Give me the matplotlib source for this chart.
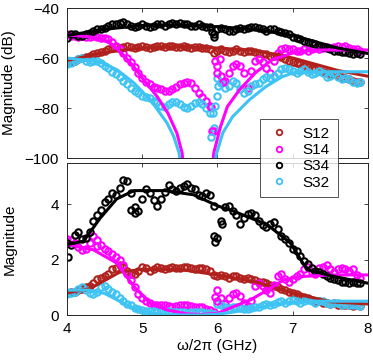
import numpy as np
import matplotlib
matplotlib.use("Agg")
from matplotlib import pyplot as plt

plt.rcParams['font.family'] = ['Liberation Sans', 'DejaVu Sans']

# measured frequency grid [GHz]
freq = np.linspace(4.0, 7.9, 79)

# ---- top panel, magnitude in dB ----
top_s12 = [-62, -61.5, -61, -60.5, -60, -59.5, -59, -58.5, -58, -57.5,
           -57, -56.5, -56, -55.5, -56, -55.5, -55, -55.5, -56, -55.5,
           -55, -55.5, -56, -55.5, -55, -55, -55.5, -55, -55, -55.5,
           -55.5, -55, -55.5, -56, -55.5, -55.5, -56, -56, -56.5, -58,
           -57, -56.5, -57, -57.5, -57, -56.5, -57, -57.5, -57, -57,
           -57.5, -58, -58.5, -58.5, -59, -59, -59, -59.5, -60.5, -61,
           -61.5, -62, -62.5, -63, -63.5, -64, -64.5, -65, -65.5, -66,
           -66.5, -66.5, -67, -67.5, -68, -68.5, -69, -69.5, -69.5]
top_s14 = [-50.5, -51, -51, -51.5, -51, -51.5, -51.5, -51, -51.5, -52,
           -52, -52.5, -53.5, -55, -56.5, -58, -60, -61.5, -63.5, -66,
           -68, -69.5, -70.5, -71.5, -72, -72.5, -73, -73, -72.5, -71.5,
           -70.5, -70, -69.5, -70, -72, -74, -75.5, -77, -79, -89,
           -63, -67, -69, -66, -63, -62.5, -63, -66, -72, -65,
           -61, -60.5, -61.5, -64, -66, -61, -58, -56.5, -56, -56.5,
           -56.5, -57, -57, -56.5, -57, -56.5, -56, -56.5, -56, -55.5,
           -56, -55.5, -55, -55.5, -55, -56, -56.5, -56.5, -57]
top_s34 = [-52, -50.5, -50.5, -51, -51, -50.5, -50, -49, -48.5, -48.5,
           -48, -47, -46.5, -46.5, -46, -45.5, -46.5, -47, -47.5, -47,
           -46.5, -47, -47.5, -47, -46.5, -46.5, -47, -46.5, -46, -46.5,
           -46, -46.5, -46.5, -47, -47, -46.5, -47, -47.5, -47.5, -50.5,
           -48.5, -48, -48.5, -49, -49, -48.5, -48, -48.5, -48, -47.5,
           -47.5, -48, -48.5, -49, -48.5, -48.5, -49, -49.5, -50, -50.5,
           -51.5, -52, -52.5, -53, -53.5, -54, -54.5, -55, -55.5, -56,
           -56.5, -57, -57, -57.5, -57.5, -58, -58.5, -58, -58.5]
top_s32 = [-62.5, -62, -61, -60.5, -60, -61, -61.5, -61, -61, -62,
           -63, -64, -65.5, -66.5, -67.5, -69, -70.5, -72, -73, -74,
           -75, -75.5, -76, -77, -77.5, -79, -79.5, -78.5, -77.5, -77.5,
           -78.5, -79.5, -80, -79, -78, -77.5, -78.5, -80, -82, -88,
           -68, -70, -72, -71, -69, -70, -72.5, -74, -73, -71,
           -70.5, -70, -68.5, -67.5, -68, -67, -66, -64.5, -64, -64.5,
           -65, -66, -65, -64.5, -65.5, -66.5, -66, -65, -66, -67.5,
           -67, -66, -67.5, -68.5, -68, -68.5, -69.5, -70, -69.5]

# scattered points around the resonance
top_s14_extra_f = [5.92, 5.93, 5.97, 6.0, 6.03, 6.07]
top_s14_extra = [-79.5, -89, -61, -66, -60.5, -69.5]
top_s32_extra_f = [5.92, 5.94, 5.97, 5.99, 6.01]
top_s32_extra = [-91.5, -82, -79, -75, -71]
top_s34_extra_f = [5.93, 5.96]
top_s34_extra = [-49.5, -51.5]

# fitted curves, top
fit_top_f = [4.0, 4.5, 5.0, 5.5, 6.0, 6.5, 7.0, 7.3, 7.6, 8.0]
fit_top_s12 = [-61, -57.8, -56, -55.5, -56, -57, -60, -62.5, -65, -67.3]
fit_top_s34 = [-51, -48.5, -47, -46.8, -47.5, -48.5, -51, -53.5, -56, -58.2]
fit_top_s14_f = [4.0, 4.3, 4.5, 4.6, 4.75, 4.89, 5.02, 5.2, 5.34, 5.46, 5.53, 5.57,
                 5.75,
                 5.92, 5.95, 6.04, 6.13, 6.29, 6.5, 6.72, 7.0, 7.3, 8.0]
fit_top_s14 = [-50.8, -51.5, -52.8, -54.5, -58.8, -63.5, -68.8, -75.5, -82, -90, -98, -110,
               np.nan,
               -110, -98, -87.5, -79.5, -72.8, -66, -60.8, -58, -56.8, -56.8]
fit_top_s32_f = [4.0, 4.44, 4.67, 4.89, 5.11, 5.33, 5.42, 5.49, 5.53,
                 5.75,
                 5.95, 5.98, 6.07, 6.2, 6.42, 6.64, 6.86, 7.0, 7.5, 8.0]
fit_top_s32 = [-60, -61.5, -64.8, -70, -76.8, -86, -91.5, -98, -110,
               np.nan,
               -110, -99, -90, -83.5, -76.8, -71.5, -67.5, -66, -65.5, -65.5]

# ---- bottom panel, linear magnitude ----
bot_s12 = [0.8, 0.85, 0.85, 0.9, 0.95, 1.0, 1.05, 1.15, 1.3, 1.35,
           1.4, 1.5, 1.65, 1.7, 1.8, 1.75, 1.6, 1.5, 1.5, 1.6,
           1.75, 1.7, 1.6, 1.65, 1.75, 1.7, 1.65, 1.7, 1.75, 1.7,
           1.7, 1.75, 1.75, 1.7, 1.65, 1.7, 1.7, 1.65, 1.6, 1.45,
           1.4, 1.45, 1.4, 1.35, 1.4, 1.4, 1.35, 1.3, 1.35, 1.3,
           1.25, 1.2, 1.2, 1.15, 1.1, 1.05, 1.0, 0.95, 0.9, 0.85,
           0.8, 0.75, 0.7, 0.65, 0.6, 0.55, 0.5, 0.5, 0.45, 0.45,
           0.4, 0.42, 0.38, 0.35, 0.38, 0.35, 0.33, 0.35, 0.33]
bot_s14 = [2.75, 2.7, 2.6, 2.45, 2.35, 2.4, 2.6, 2.85, 2.7, 2.55,
           2.4, 2.3, 2.2, 2.1, 2.0, 1.8, 1.5, 1.25, 1.0, 0.75,
           0.6, 0.5, 0.42, 0.38, 0.36, 0.35, 0.36, 0.34, 0.3, 0.32,
           0.35, 0.37, 0.36, 0.33, 0.3, 0.3, 0.28, 0.22, 0.18, 0.12,
           0.9, 0.6, 0.4, 0.6, 0.75, 0.8, 0.7, 0.42, 0.32, 0.5,
           1.05, 1.15, 1.05, 0.9, 0.8, 1.1, 1.4, 1.5, 1.3, 1.2,
           1.3, 1.4, 1.5, 1.65, 1.75, 1.55, 1.5, 1.7, 1.75, 1.8,
           1.65, 1.55, 1.65, 1.7, 1.65, 1.6, 1.65, 1.45, 1.35]
bot_s34 = [2.6, 2.55, 2.9, 3.0, 2.75, 2.8, 3.0, 3.4, 3.6, 3.8,
           4.1, 4.2, 4.4, 4.35, 4.6, 4.9, 4.85, 4.4, 3.9, 3.75,
           4.2, 4.55, 4.4, 4.15, 3.95, 4.2, 4.45, 4.7, 4.55, 4.5,
           4.6, 4.65, 4.75, 4.6, 4.55, 4.35, 4.3, 4.4, 4.35, 3.95,
           2.8, 3.4, 3.9, 3.95, 3.75, 3.6, 3.3, 3.5, 3.65, 3.7,
           3.6, 3.4, 3.25, 3.2, 3.3, 3.35, 3.1, 2.85, 2.75, 2.6,
           2.4, 2.3, 2.15, 1.95, 1.85, 1.7, 1.6, 1.55, 1.5, 1.4,
           1.35, 1.3, 1.25, 1.2, 1.2, 1.15, 1.2, 1.15, 1.15]
bot_s32 = [0.75, 0.8, 0.85, 0.95, 1.0, 0.9, 0.8, 0.75, 0.85, 1.0,
           1.05, 0.95, 0.85, 0.75, 0.6, 0.5, 0.4, 0.35, 0.25, 0.2,
           0.18, 0.15, 0.15, 0.13, 0.12, 0.1, 0.12, 0.13, 0.12, 0.1,
           0.1, 0.1, 0.08, 0.1, 0.12, 0.1, 0.1, 0.08, 0.07, 0.05,
           0.4, 0.35, 0.28, 0.25, 0.3, 0.3, 0.25, 0.2, 0.22, 0.27,
           0.3, 0.3, 0.35, 0.4, 0.38, 0.4, 0.48, 0.5, 0.45, 0.5,
           0.55, 0.5, 0.45, 0.5, 0.55, 0.5, 0.45, 0.5, 0.52, 0.45,
           0.4, 0.45, 0.42, 0.38, 0.4, 0.38, 0.35, 0.35, 0.34]

bot_s34_extra_f = [4.02, 4.85, 4.9, 5.95, 5.97, 6.06]
bot_s34_extra = [2.1, 3.8, 3.7, 2.85, 2.65, 3.3]
bot_s14_extra_f = [5.97, 6.0, 4.4]
bot_s14_extra = [0.65, 0.5, 2.5]

# fitted curves, bottom
fit_bot_s12_f = [4.0, 4.3, 4.5, 4.7, 5.0, 5.5, 6.0, 6.5, 7.0, 7.5, 8.0]
fit_bot_s12 = [0.8, 0.95, 1.25, 1.55, 1.65, 1.65, 1.45, 1.2, 0.8, 0.48, 0.4]
fit_bot_s14_f = [4.0, 4.35, 4.66, 4.89, 5.11, 5.33, 5.6, 5.8, 6.0, 6.21, 6.44, 6.66, 6.88, 7.1, 7.5, 8.0]
fit_bot_s14 = [2.55, 2.36, 1.88, 1.03, 0.42, 0.18, 0.04, 0.02, 0.06, 0.3, 0.55, 0.9, 1.27, 1.39, 1.45, 1.45]
fit_bot_s34_f = [4.0, 4.22, 4.44, 4.66, 4.89, 5.3, 5.68, 6.0, 6.21, 6.66, 6.97, 7.19, 7.54, 8.0]
fit_bot_s34 = [2.55, 2.67, 3.5, 4.2, 4.5, 4.5, 4.35, 3.95, 3.76, 3.27, 2.6, 1.64, 1.4, 1.15]
fit_bot_s32_f = [4.0, 4.3, 4.5, 4.7, 4.9, 5.1, 5.3, 5.5, 5.8, 6.0, 6.2, 6.5, 6.8, 7.2, 7.6, 8.0]
fit_bot_s32 = [0.9, 0.9, 0.78, 0.5, 0.22, 0.08, 0.02, 0.0, 0.0, 0.03, 0.1, 0.25, 0.4, 0.5, 0.5, 0.5]

labels = ['S12', 'S14', 'S34', 'S32']
colors = ['#b0201c', '#ff00ff', '#000000', '#3ec3f3']

fig = plt.figure(figsize=(3.73, 3.62), dpi=100)
ax1 = fig.add_axes([0.1796, 0.5635, 0.807, 0.4144])
ax2 = fig.add_axes([0.1796, 0.1298, 0.807, 0.42])

mk = dict(ls='none', marker='o', mfc='none', ms=4.6, mew=1.5)

# top panel
top_data = [top_s12, top_s14, top_s34, top_s32]
for d, c in zip(top_data, colors):
    ax1.plot(freq, d, color=c, **mk)
ax1.plot(top_s14_extra_f, top_s14_extra, color=colors[1], **mk)
ax1.plot(top_s34_extra_f, top_s34_extra, color=colors[2], **mk)
ax1.plot(top_s32_extra_f, top_s32_extra, color=colors[3], **mk)
ax1.plot(fit_top_f, fit_top_s12, color=colors[0], lw=2.2)
ax1.plot(fit_top_s14_f, fit_top_s14, color=colors[1], lw=2.2)
ax1.plot(fit_top_f, fit_top_s34, color=colors[2], lw=2.2)
ax1.plot(fit_top_s32_f, fit_top_s32, color=colors[3], lw=2.2)

# bottom panel
bot_data = [bot_s12, bot_s14, bot_s34, bot_s32]
for d, c in zip(bot_data, colors):
    ax2.plot(freq, d, color=c, **mk)
ax2.plot(bot_s14_extra_f, bot_s14_extra, color=colors[1], **mk)
ax2.plot(bot_s34_extra_f, bot_s34_extra, color=colors[2], **mk)
ax2.plot(fit_bot_s12_f, fit_bot_s12, color=colors[0], lw=2.2)
ax2.plot(fit_bot_s14_f, fit_bot_s14, color=colors[1], lw=2.2)
ax2.plot(fit_bot_s34_f, fit_bot_s34, color=colors[2], lw=2.2)
ax2.plot(fit_bot_s32_f, fit_bot_s32, color=colors[3], lw=2.2)

for ax in (ax1, ax2):
    ax.set_xlim(4, 8)
    ax.set_xticks([4, 5, 6, 7, 8])
    ax.tick_params(direction='in', top=True, right=True, labelsize=11,
                   length=3, width=0.6, color='#262626')
    ax.tick_params(axis='y', pad=6)
    ax.tick_params(axis='x', pad=5)
    for s in ax.spines.values():
        s.set_color('#262626')
        s.set_linewidth(0.7)

ax1.set_ylim(-100, -40)
ax1.set_yticks([-100, -80, -60, -40])
ax1.set_xticklabels([])
ax1.set_ylabel('Magnitude (dB)', fontsize=11)
ax1.yaxis.set_label_coords(-0.168, 0.5)

ax2.set_ylim(0, 5.5)
ax2.set_yticks([0, 2, 4])
ax2.set_ylabel('Magnitude', fontsize=11)
ax2.yaxis.set_label_coords(-0.168, 0.5)
ax2.set_xlabel('ω/2π (GHz)', fontsize=11, labelpad=2)

handles = [plt.Line2D([], [], color=c, ls='none', marker='o', mfc='none', ms=4, mew=1.3)
           for c in colors]
leg = fig.legend(handles, labels, loc='upper left', bbox_to_anchor=(260/373, 1 - 119/362),
                 frameon=True, fancybox=False, edgecolor='#262626', fontsize=11,
                 handlelength=1.5, handletextpad=0.8, borderpad=0.5, labelspacing=0.15,
                 borderaxespad=0)
leg.get_frame().set_linewidth(0.7)

fig.savefig('out.png', dpi=100)
